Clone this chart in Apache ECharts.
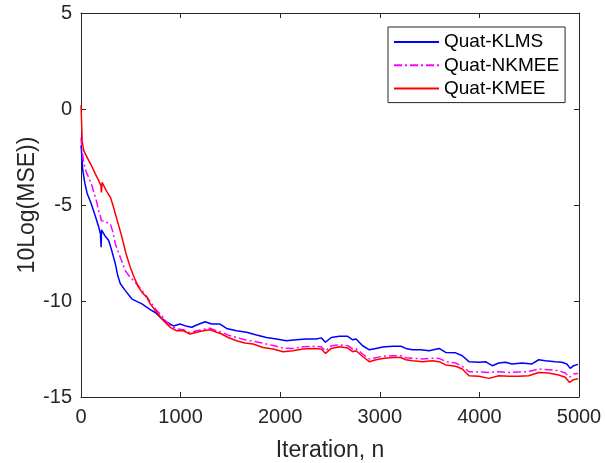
<!DOCTYPE html>
<html>
<head>
<meta charset="utf-8">
<script src="https://cdn.jsdelivr.net/npm/echarts@6/dist/echarts.min.js"></script>
<style>
html,body{margin:0;padding:0;background:#fff;}
#c{width:605px;height:463px;}
</style>
</head>
<body>
<div id="c"></div>
<script>
// ---- data ----
const xTicks = [0, 1000, 2000, 3000, 4000, 5000];
const yTicks = [-15, -10, -5, 0, 5];
const seriesNames = ['Quat-KLMS', 'Quat-NKMEE', 'Quat-KMEE'];

const klmsN = [0, 5, 18, 40, 62, 100, 145, 178, 195, 202, 206, 240, 278, 310, 345, 370, 395, 445, 512, 612, 695, 745, 795, 862, 928, 995, 1062, 1112, 1162, 1245, 1312, 1395, 1462, 1562, 1662, 1762, 1862, 1962, 2062, 2162, 2262, 2362, 2412, 2455, 2512, 2595, 2678, 2728, 2762, 2828, 2895, 2962, 3028, 3128, 3212, 3262, 3328, 3412, 3495, 3595, 3662, 3762, 3828, 3895, 3995, 4062, 4128, 4195, 4262, 4328, 4428, 4528, 4595, 4662, 4762, 4828, 4878, 4912, 4945, 4990];
const klmsV = [-1.9, -2.2, -3.2, -3.9, -4.4, -4.9, -5.6, -6.15, -6.5, -7.2, -6.3, -6.6, -6.85, -7.4, -8.07, -8.7, -9.1, -9.46, -9.9, -10.15, -10.45, -10.6, -10.85, -11.1, -11.3, -11.2, -11.32, -11.37, -11.25, -11.08, -11.2, -11.2, -11.43, -11.55, -11.63, -11.77, -11.9, -11.98, -12.07, -12.02, -11.98, -11.98, -11.92, -12.15, -11.9, -11.84, -11.84, -12.02, -11.98, -12.33, -12.54, -12.47, -12.4, -12.36, -12.36, -12.47, -12.54, -12.54, -12.59, -12.47, -12.68, -12.7, -12.85, -13.16, -13.19, -13.16, -13.37, -13.23, -13.19, -13.28, -13.23, -13.28, -13.06, -13.11, -13.16, -13.19, -13.28, -13.51, -13.37, -13.3];

const nkmeeN = [0, 10, 25, 50, 80, 110, 155, 180, 195, 205, 240, 270, 295, 320, 345, 400, 445, 490, 528, 580, 628, 670, 712, 760, 812, 860, 900, 962, 1028, 1095, 1162, 1228, 1295, 1362, 1412, 1478, 1562, 1645, 1728, 1828, 1928, 2028, 2128, 2228, 2328, 2412, 2455, 2512, 2595, 2678, 2728, 2762, 2828, 2895, 2962, 3028, 3128, 3212, 3262, 3328, 3428, 3528, 3595, 3662, 3762, 3828, 3895, 3995, 4095, 4195, 4295, 4395, 4495, 4595, 4695, 4795, 4862, 4905, 4945, 4990];
const nkmeeV = [-1.5, -2.1, -2.7, -3.25, -3.6, -4.0, -4.8, -5.35, -5.6, -5.82, -5.85, -5.95, -6.0, -6.4, -7.03, -7.8, -8.42, -8.75, -8.94, -9.25, -9.55, -9.85, -10.15, -10.5, -10.77, -11.1, -11.3, -11.45, -11.5, -11.65, -11.55, -11.48, -11.42, -11.55, -11.62, -11.78, -11.9, -12.02, -12.1, -12.2, -12.32, -12.45, -12.47, -12.38, -12.36, -12.38, -12.6, -12.33, -12.29, -12.33, -12.5, -12.48, -12.76, -13.02, -12.95, -12.88, -12.85, -12.85, -12.95, -12.98, -13.02, -12.98, -12.99, -13.15, -13.23, -13.4, -13.68, -13.7, -13.72, -13.68, -13.72, -13.7, -13.68, -13.54, -13.58, -13.63, -13.75, -13.97, -13.8, -13.78];

const kmeeN = [0, 8, 12, 20, 28, 50, 78, 110, 145, 178, 200, 205, 212, 255, 295, 320, 345, 380, 412, 450, 495, 540, 578, 620, 662, 695, 762, 828, 895, 962, 1028, 1095, 1162, 1228, 1295, 1362, 1412, 1478, 1562, 1645, 1728, 1828, 1928, 2028, 2128, 2228, 2328, 2412, 2455, 2512, 2595, 2678, 2728, 2762, 2828, 2895, 2962, 3028, 3128, 3212, 3262, 3328, 3428, 3528, 3595, 3662, 3762, 3828, 3895, 3995, 4095, 4195, 4295, 4395, 4495, 4595, 4695, 4795, 4862, 4905, 4945, 4990];
const kmeeV = [0.2, -1.0, -1.7, -1.8, -2.17, -2.4, -2.69, -3.0, -3.39, -3.73, -4.0, -4.34, -3.82, -4.26, -4.6, -5.0, -5.47, -6.1, -6.69, -7.5, -8.25, -8.85, -9.29, -9.6, -9.81, -10.15, -10.6, -11.03, -11.37, -11.55, -11.55, -11.72, -11.63, -11.55, -11.5, -11.63, -11.72, -11.9, -12.07, -12.19, -12.24, -12.42, -12.5, -12.64, -12.59, -12.5, -12.47, -12.5, -12.73, -12.47, -12.38, -12.45, -12.64, -12.59, -12.89, -13.16, -13.06, -12.99, -12.94, -12.94, -13.06, -13.11, -13.16, -13.11, -13.16, -13.33, -13.4, -13.54, -13.89, -13.92, -14.03, -13.89, -13.92, -13.92, -13.89, -13.72, -13.75, -13.85, -13.97, -14.24, -14.1, -14.05];

// ---- build ----
const pair = (xs, ys) => xs.map((x, i) => [x, ys[i]]);
const axisColor = '#262626';
const font = '"Liberation Sans", Arial, Helvetica, sans-serif';
const plain = v => String(v);

const xBase = {
  type: 'value', min: xTicks[0], max: xTicks[xTicks.length - 1], interval: xTicks[1] - xTicks[0],
  axisLine: { show: true, onZero: false, lineStyle: { color: axisColor, width: 1 } },
  axisTick: { show: true, inside: true, length: 5, lineStyle: { color: axisColor } },
  splitLine: { show: false }
};
const yBase = {
  type: 'value', min: yTicks[0], max: yTicks[yTicks.length - 1], interval: yTicks[1] - yTicks[0],
  axisLine: { show: true, onZero: false, lineStyle: { color: axisColor, width: 1 } },
  axisTick: { show: true, inside: true, length: 5, lineStyle: { color: axisColor } },
  splitLine: { show: false }
};

const chart = echarts.init(document.getElementById('c'), null, { renderer: 'canvas' });
chart.setOption({
  animation: false,
  backgroundColor: '#ffffff',
  textStyle: { fontFamily: font },
  grid: { left: 81, top: 13, right: 26, bottom: 66, containLabel: false, outerBoundsMode: 'none' },
  legend: {
    data: seriesNames,
    orient: 'vertical',
    left: 388, top: 27,
    padding: [5, 6, 4, 5],
    itemWidth: 45, itemHeight: 1, itemGap: 3.3,
    backgroundColor: '#ffffff',
    borderColor: axisColor, borderWidth: 1, borderRadius: 0,
    textStyle: { fontFamily: font, fontSize: 19, color: '#000000', lineHeight: 20, padding: [0, 0, 0, 0] }
  },
  xAxis: [
    Object.assign({}, xBase, {
      position: 'bottom',
      axisLabel: { color: axisColor, fontSize: 20, fontFamily: font, margin: 10, formatter: plain },
      name: 'Iteration, n', nameLocation: 'middle', nameGap: 42, nameMoveOverlap: false,
      nameTextStyle: { color: axisColor, fontSize: 23, fontFamily: font }
    }),
    Object.assign({}, xBase, { position: 'top', axisLabel: { show: false } })
  ],
  yAxis: [
    Object.assign({}, yBase, {
      position: 'left',
      axisLabel: { color: axisColor, fontSize: 20, fontFamily: font, margin: 9, formatter: plain },
      name: '10Log(MSE))', nameLocation: 'middle', nameGap: 42, nameRotate: 90, nameMoveOverlap: false,
      nameTextStyle: { color: axisColor, fontSize: 23, fontFamily: font }
    }),
    Object.assign({}, yBase, { position: 'right', axisLabel: { show: false } })
  ],
  series: [
    { name: seriesNames[0], type: 'line', xAxisIndex: 0, yAxisIndex: 0, symbol: 'none', showSymbol: false,
      data: pair(klmsN, klmsV), lineStyle: { color: '#0000ff', width: 1.5 }, itemStyle: { color: '#0000ff' } },
    { name: seriesNames[1], type: 'line', xAxisIndex: 0, yAxisIndex: 0, symbol: 'none', showSymbol: false,
      data: pair(nkmeeN, nkmeeV), lineStyle: { color: '#ff00ff', width: 1.5, type: [8, 3, 2, 3] }, itemStyle: { color: '#ff00ff' } },
    { name: seriesNames[2], type: 'line', xAxisIndex: 0, yAxisIndex: 0, symbol: 'none', showSymbol: false,
      data: pair(kmeeN, kmeeV), lineStyle: { color: '#ff0000', width: 1.5 }, itemStyle: { color: '#ff0000' } }
  ]
});
</script>
</body>
</html>
